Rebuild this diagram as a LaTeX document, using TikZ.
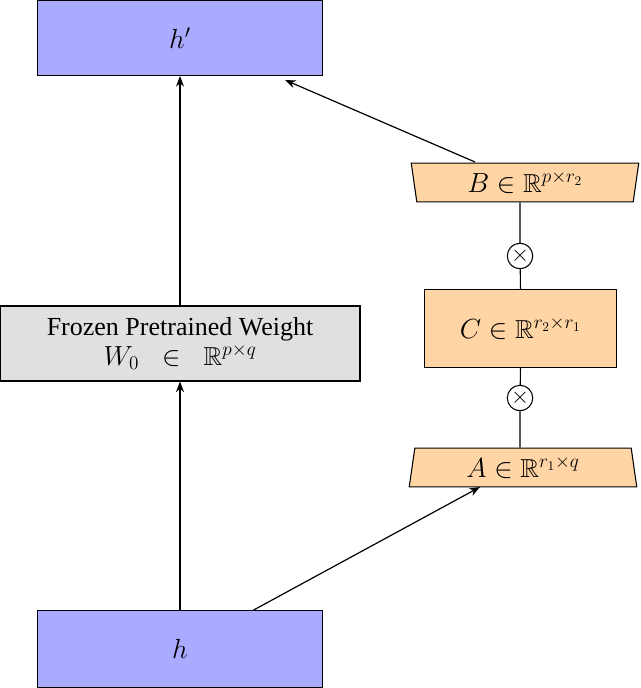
\documentclass[tikz,border=0pt]{standalone}
\usepackage{amssymb}
\usepackage{fontspec}
\setmainfont{Liberation Serif}
\usetikzlibrary{shapes.geometric,arrows.meta}
\definecolor{blu}{RGB}{170,170,255}
\definecolor{org}{RGB}{255,213,165}
\definecolor{gry}{RGB}{224,224,224}
\begin{document}
\begin{tikzpicture}[x=0.75pt,y=-0.75pt,
 box/.style={draw,line width=0.8pt,inner sep=0,font=\fontsize{19.5}{22}\selectfont},
 trap/.style={box,fill=org,shape=trapezium,trapezium left angle=76,trapezium right angle=76,trapezium stretches body,minimum width=170bp,minimum height=29bp},
 mul/.style={draw,line width=0.8pt,circle,fill=white,minimum size=19bp,inner sep=0,font=\LARGE},
 arr/.style={line width=0.9pt,-{Stealth[length=8pt,width=6pt]}}]
\useasboundingbox (0,0) rectangle (640,688);
\node[box,fill=blu,minimum width=213bp,minimum height=56bp] (hp) at (180,38) {$h'$};
\node[box,fill=blu,minimum width=213bp,minimum height=57bp] (h) at (180,649) {$h$};
\node[box,fill=gry,minimum width=269bp,minimum height=56bp,align=center] (W) at (180,343.5) {Frozen Pretrained Weight\\[1pt] $W_0\;\;\in\;\;\mathbb{R}^{p\times q}$};
\node[trap,shape border rotate=180] (B) at (525,182.5) {$B\in\mathbb{R}^{p\times r_2}$};
\node[box,fill=org,minimum width=143bp,minimum height=58bp] (C) at (520.5,328.5) {$C\in\mathbb{R}^{r_2\times r_1}$};
\node[trap] (A) at (523,467.5) {$A\in\mathbb{R}^{r_1\times q}$};
\node[mul] (m1) at (520,256) {$\times$};
\node[mul] (m2) at (520,398) {$\times$};
\draw[line width=0.8pt] (m1 |- B.south) -- (m1) -- (C.north);
\draw[line width=0.8pt] (C.south) -- (m2) -- (m2 |- A.north);
\draw[arr] (h.north) -- (W.south);
\draw[arr] (W.north) -- (hp.south);
\draw[arr] (h.north east) ++(-70,0) coordinate (s1) (s1) -- (480,487) coordinate (e1);
\draw[arr] (475,162) coordinate (s2) -- (285,80) coordinate (e2);
\end{tikzpicture}
\end{document}
